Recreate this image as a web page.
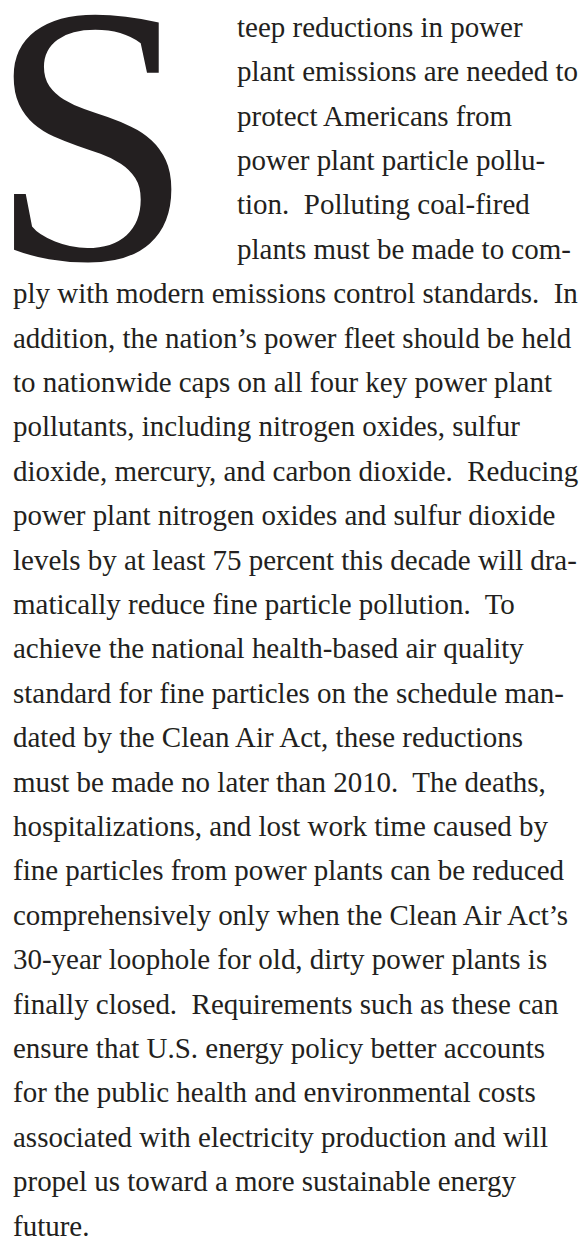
<!DOCTYPE html>
<html>
<head>
<meta charset="utf-8">
<script src="https://cdn.jsdelivr.net/npm/chart.js"></script>
<style>
  html, body { margin: 0; padding: 0; background: #fff; }
  #page {
    position: relative;
    width: 584px;
    height: 1241px;
    overflow: hidden;
    font-family: "Liberation Serif", "Times New Roman", serif;
    color: #231f20;
  }
  #capbox {
    position: absolute;
    left: 0;
    top: 0;
    width: 200px;
    height: 270px;
    overflow: hidden;
  }
  #dropcap, .line {
    position: absolute;
    white-space: pre;
  }
  .line { line-height: 1; }
</style>
</head>
<body>
<div id="page">
  <div id="capbox"><div id="dropcap"></div></div>
</div>
<script>
// paragraph text, one entry per printed line
const dropLetter = "S";
const capLines = [
  "teep reductions in power",
  "plant emissions are needed to",
  "protect Americans from",
  "power plant particle pollu-",
  "tion.  Polluting coal-fired",
  "plants must be made to com-"
];
const bodyLines = [
  "ply with modern emissions control standards.  In",
  "addition, the nation\u2019s power fleet should be held",
  "to nationwide caps on all four key power plant",
  "pollutants, including nitrogen oxides, sulfur",
  "dioxide, mercury, and carbon dioxide.  Reducing",
  "power plant nitrogen oxides and sulfur dioxide",
  "levels by at least 75 percent this decade will dra-",
  "matically reduce fine particle pollution.  To",
  "achieve the national health-based air quality",
  "standard for fine particles on the schedule man-",
  "dated by the Clean Air Act, these reductions",
  "must be made no later than 2010.  The deaths,",
  "hospitalizations, and lost work time caused by",
  "fine particles from power plants can be reduced",
  "comprehensively only when the Clean Air Act\u2019s",
  "30-year loophole for old, dirty power plants is",
  "finally closed.  Requirements such as these can",
  "ensure that U.S. energy policy better accounts",
  "for the public health and environmental costs",
  "associated with electricity production and will",
  "propel us toward a more sustainable energy",
  "future."
];

const page = document.getElementById('page');
const FAMILY = '"Liberation Serif", "Times New Roman", serif';

// size the body text so the widest line spans the same width as the scan
const ctx = document.createElement('canvas').getContext('2d');
ctx.font = '100px ' + FAMILY;
const FONT = Math.min(29.2, 100 * 565 / ctx.measureText(bodyLines[0]).width);

const LINE_H = 44.4;
const FIRST_BASE = 37;
const BASE_K = 0.8375; // baseline from box top, line-height 1

// drop cap, kept in a small box so it does not cover the lines below
const cap = document.getElementById('dropcap');
cap.textContent = dropLetter;
const capSize = 369;
const capLH = 0.72;
cap.style.fontSize = capSize + 'px';
cap.style.lineHeight = capLH;
cap.style.left = '-11px';
cap.style.top = (FIRST_BASE + 5 * LINE_H - (capLH / 2 + 0.3375) * capSize) + 'px';

const allLines = capLines.concat(bodyLines);
allLines.forEach((txt, i) => {
  const d = document.createElement('div');
  d.className = 'line';
  d.textContent = txt;
  d.style.fontSize = FONT + 'px';
  d.style.top = (FIRST_BASE + i * LINE_H - BASE_K * FONT) + 'px';
  d.style.left = (i < capLines.length ? 237 : 13) + 'px';
  page.appendChild(d);
});
</script>
</body>
</html>
